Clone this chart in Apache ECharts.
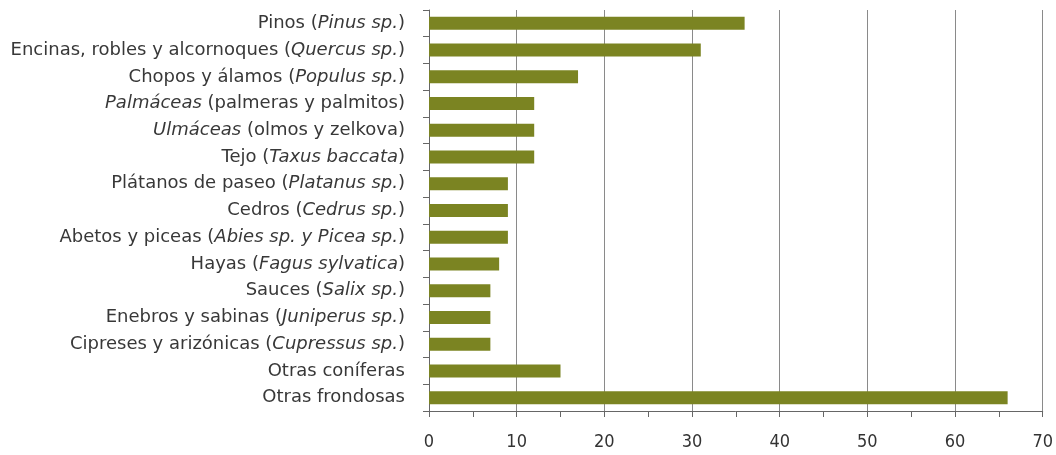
<!DOCTYPE html>
<html>
<head>
<meta charset="utf-8">
<script src="https://cdn.jsdelivr.net/npm/echarts@6/dist/echarts.min.js"></script>
<style>
  html, body { margin: 0; padding: 0; background: #fff; }
  #chart { width: 1056px; height: 455px; }
</style>
</head>
<body>
<div id="chart"></div>
<script>
// category labels, italic parts wrapped in *...*
const categories = [
  'Pinos (*Pinus sp.*)',
  'Encinas, robles y alcornoques (*Quercus sp.*)',
  'Chopos y álamos (*Populus sp.*)',
  '*Palmáceas* (palmeras y palmitos)',
  '*Ulmáceas* (olmos y zelkova)',
  'Tejo (*Taxus baccata*)',
  'Plátanos de paseo (*Platanus sp.*)',
  'Cedros (*Cedrus sp.*)',
  'Abetos y piceas (*Abies sp. y Picea sp.*)',
  'Hayas (*Fagus sylvatica*)',
  'Sauces (*Salix sp.*)',
  'Enebros y sabinas (*Juniperus sp.*)',
  'Cipreses y arizónicas (*Cupressus sp.*)',
  'Otras coníferas',
  'Otras frondosas'
];
const values = [36, 31, 17, 12, 12, 12, 9, 9, 9, 8, 7, 7, 7, 15, 66];
const xTicks = [0, 10, 20, 30, 40, 50, 60, 70];

const FONT = 'DejaVu Sans';

// turn '*...*' markup into echarts rich text
const toRich = (label) =>
  label.split('*').map((part, i) => {
    if (!part) return '';
    return (i % 2 ? '{i|' : '{n|') + part + '}';
  }).join('');

const chart = echarts.init(document.getElementById('chart'));

chart.setOption({
  animation: false,
  grid: { left: 429, right: 12, top: 10, bottom: 44 },
  xAxis: {
    type: 'value',
    min: xTicks[0],
    max: xTicks[xTicks.length - 1],
    interval: 10,
    axisLine: { show: true, lineStyle: { color: '#666', width: 1 } },
    axisTick: { show: true, length: 6, lineStyle: { color: '#666' } },
    minorTick: { show: true, splitNumber: 2, length: 6, lineStyle: { color: '#666' } },
    splitLine: { show: true, lineStyle: { color: '#8a8a8a', width: 1 } },
    axisLabel: { color: '#333', fontFamily: 'DejaVu Sans Condensed', fontSize: 18, margin: 22 }
  },
  yAxis: {
    type: 'category',
    inverse: true,
    data: categories,
    axisLine: { show: true, lineStyle: { color: '#666', width: 1 } },
    axisTick: { show: true, length: 6, lineStyle: { color: '#666' } },
    axisLabel: {
      margin: 24,
      formatter: (v) => toRich(v),
      rich: {
        n: { color: '#383838', fontFamily: FONT, fontSize: 18 },
        i: { color: '#383838', fontFamily: FONT, fontSize: 18, fontStyle: 'italic' }
      }
    }
  },
  series: [
    {
      type: 'bar',
      data: values,
      barWidth: 13,
      itemStyle: { color: '#7b8422' }
    }
  ]
});
</script>
</body>
</html>
